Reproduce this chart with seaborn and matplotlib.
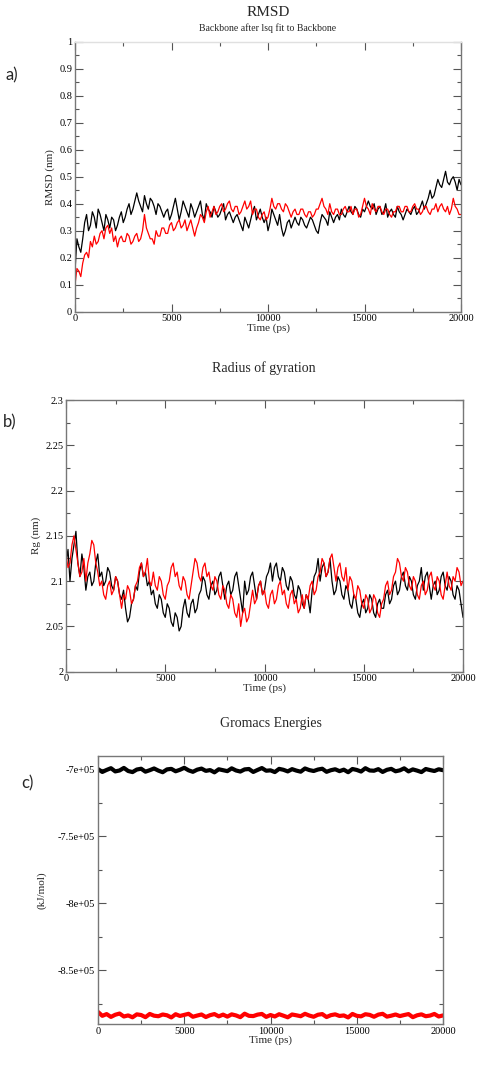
import matplotlib
matplotlib.use('Agg')
import matplotlib.pyplot as plt
import numpy as np
import seaborn as sns
from matplotlib.ticker import MultipleLocator, FuncFormatter

# time axis (ps)
time = np.arange(0, 20001, 100)
time_e = np.arange(0, 20001, 250)

rmsd_black = [
    0.15, 0.27, 0.24, 0.22, 0.27, 0.33, 0.36, 0.30, 0.32, 0.37,
    0.35, 0.31, 0.38, 0.36, 0.33, 0.30, 0.36, 0.34, 0.31, 0.35,
    0.34, 0.30, 0.32, 0.35, 0.37, 0.33, 0.35, 0.38, 0.40, 0.36,
    0.38, 0.41, 0.44, 0.41, 0.39, 0.37, 0.43, 0.40, 0.38, 0.42,
    0.41, 0.39, 0.36, 0.40, 0.39, 0.37, 0.35, 0.37, 0.38, 0.34,
    0.36, 0.39, 0.42, 0.38, 0.34, 0.37, 0.41, 0.39, 0.37, 0.35,
    0.40, 0.38, 0.35, 0.37, 0.39, 0.41, 0.36, 0.34, 0.40, 0.38,
    0.37, 0.35, 0.39, 0.37, 0.35, 0.36, 0.38, 0.40, 0.34, 0.36,
    0.37, 0.35, 0.33, 0.35, 0.36, 0.34, 0.32, 0.30, 0.35, 0.33,
    0.31, 0.34, 0.37, 0.39, 0.34, 0.36, 0.38, 0.35, 0.33, 0.35,
    0.30, 0.33, 0.38, 0.36, 0.34, 0.32, 0.36, 0.31, 0.28, 0.30,
    0.33, 0.34, 0.31, 0.33, 0.35, 0.33, 0.32, 0.35, 0.34, 0.32,
    0.31, 0.33, 0.35, 0.34, 0.32, 0.30, 0.29, 0.33, 0.36, 0.35,
    0.34, 0.32, 0.37, 0.35, 0.33, 0.35, 0.36, 0.34, 0.38, 0.36,
    0.35, 0.37, 0.39, 0.37, 0.36, 0.39, 0.38, 0.36, 0.35, 0.38,
    0.37, 0.39, 0.41, 0.39, 0.38, 0.40, 0.36, 0.38, 0.39, 0.36,
    0.37, 0.40, 0.35, 0.37, 0.38, 0.36, 0.35, 0.39, 0.37, 0.36,
    0.34, 0.36, 0.38, 0.37, 0.36, 0.38, 0.39, 0.36, 0.37, 0.39,
    0.41, 0.38, 0.40, 0.42, 0.45, 0.42, 0.43, 0.46, 0.49, 0.47,
    0.46, 0.49, 0.52, 0.48, 0.47, 0.49, 0.50, 0.48, 0.45, 0.49,
    0.47]
rmsd_red = [
    0.10, 0.16, 0.15, 0.13, 0.18, 0.21, 0.22, 0.20, 0.26, 0.24,
    0.28, 0.25, 0.26, 0.29, 0.30, 0.27, 0.31, 0.32, 0.29, 0.31,
    0.26, 0.28, 0.24, 0.27, 0.28, 0.26, 0.26, 0.29, 0.28, 0.25,
    0.26, 0.28, 0.29, 0.26, 0.27, 0.30, 0.36, 0.31, 0.29, 0.27,
    0.27, 0.25, 0.30, 0.28, 0.28, 0.31, 0.31, 0.29, 0.29, 0.32,
    0.33, 0.30, 0.31, 0.33, 0.34, 0.31, 0.32, 0.34, 0.30, 0.32,
    0.34, 0.31, 0.28, 0.31, 0.33, 0.36, 0.35, 0.33, 0.37, 0.39,
    0.35, 0.37, 0.39, 0.36, 0.37, 0.39, 0.40, 0.37, 0.38, 0.40,
    0.41, 0.38, 0.37, 0.39, 0.39, 0.36, 0.37, 0.39, 0.41, 0.38,
    0.39, 0.41, 0.36, 0.38, 0.38, 0.35, 0.34, 0.36, 0.37, 0.34,
    0.35, 0.38, 0.42, 0.39, 0.38, 0.40, 0.40, 0.38, 0.37, 0.40,
    0.39, 0.37, 0.35, 0.37, 0.38, 0.36, 0.36, 0.38, 0.38, 0.36,
    0.35, 0.37, 0.37, 0.35, 0.36, 0.38, 0.38, 0.40, 0.42, 0.39,
    0.38, 0.36, 0.40, 0.37, 0.36, 0.38, 0.38, 0.36, 0.36, 0.38,
    0.39, 0.37, 0.37, 0.39, 0.36, 0.38, 0.38, 0.35, 0.36, 0.39,
    0.42, 0.39, 0.38, 0.36, 0.40, 0.38, 0.37, 0.39, 0.39, 0.37,
    0.36, 0.38, 0.38, 0.36, 0.35, 0.37, 0.37, 0.39, 0.39, 0.37,
    0.37, 0.39, 0.39, 0.37, 0.37, 0.39, 0.40, 0.38, 0.38, 0.36,
    0.37, 0.39, 0.39, 0.37, 0.36, 0.38, 0.38, 0.40, 0.37, 0.39,
    0.40, 0.38, 0.37, 0.39, 0.36, 0.38, 0.42, 0.39, 0.38, 0.36,
    0.36]

rg_black = [
    2.12, 2.135, 2.10, 2.125, 2.14, 2.155, 2.12, 2.105, 2.13, 2.115,
    2.09, 2.105, 2.11, 2.095, 2.10, 2.12, 2.13, 2.105, 2.11, 2.095,
    2.10, 2.115, 2.11, 2.095, 2.09, 2.105, 2.10, 2.085, 2.08, 2.09,
    2.07, 2.055, 2.06, 2.075, 2.08, 2.095, 2.09, 2.11, 2.12, 2.105,
    2.11, 2.095, 2.10, 2.085, 2.09, 2.075, 2.07, 2.085, 2.08, 2.065,
    2.06, 2.075, 2.07, 2.055, 2.05, 2.065, 2.06, 2.045, 2.05, 2.07,
    2.08, 2.065, 2.06, 2.075, 2.08, 2.065, 2.07, 2.085, 2.09, 2.105,
    2.10, 2.085, 2.08, 2.095, 2.10, 2.085, 2.09, 2.105, 2.11, 2.095,
    2.08, 2.095, 2.10, 2.085, 2.09, 2.105, 2.11, 2.095, 2.08, 2.065,
    2.10, 2.085, 2.09, 2.105, 2.11, 2.095, 2.08, 2.095, 2.10, 2.085,
    2.09, 2.105, 2.11, 2.12, 2.10, 2.115, 2.12, 2.105, 2.10, 2.115,
    2.11, 2.095, 2.09, 2.105, 2.10, 2.085, 2.08, 2.095, 2.09, 2.075,
    2.07, 2.085, 2.08, 2.065, 2.09, 2.105, 2.11, 2.125, 2.10, 2.115,
    2.12, 2.105, 2.11, 2.125, 2.10, 2.085, 2.09, 2.105, 2.10, 2.085,
    2.08, 2.095, 2.09, 2.075, 2.07, 2.085, 2.08, 2.065, 2.06, 2.075,
    2.08, 2.065, 2.07, 2.085, 2.08, 2.065, 2.06, 2.075, 2.08, 2.07,
    2.07, 2.085, 2.09, 2.075, 2.08, 2.095, 2.10, 2.085, 2.09, 2.105,
    2.11, 2.095, 2.09, 2.105, 2.10, 2.085, 2.08, 2.095, 2.10, 2.115,
    2.09, 2.105, 2.11, 2.095, 2.08, 2.095, 2.10, 2.085, 2.09, 2.105,
    2.11, 2.095, 2.09, 2.105, 2.10, 2.085, 2.08, 2.095, 2.09, 2.075,
    2.06]
rg_red = [
    2.13, 2.115, 2.12, 2.14, 2.15, 2.135, 2.12, 2.105, 2.11, 2.125,
    2.10, 2.12, 2.13, 2.145, 2.14, 2.12, 2.11, 2.095, 2.10, 2.085,
    2.08, 2.095, 2.10, 2.085, 2.09, 2.105, 2.10, 2.085, 2.07, 2.085,
    2.08, 2.095, 2.09, 2.075, 2.08, 2.095, 2.10, 2.115, 2.12, 2.105,
    2.11, 2.125, 2.10, 2.095, 2.11, 2.095, 2.09, 2.105, 2.10, 2.085,
    2.08, 2.095, 2.10, 2.115, 2.12, 2.105, 2.11, 2.095, 2.09, 2.105,
    2.10, 2.085, 2.08, 2.095, 2.11, 2.125, 2.12, 2.105, 2.10, 2.115,
    2.12, 2.105, 2.11, 2.095, 2.09, 2.105, 2.10, 2.085, 2.08, 2.095,
    2.09, 2.075, 2.07, 2.085, 2.08, 2.065, 2.06, 2.075, 2.05, 2.065,
    2.07, 2.055, 2.06, 2.075, 2.09, 2.075, 2.08, 2.095, 2.10, 2.085,
    2.09, 2.075, 2.07, 2.085, 2.09, 2.075, 2.08, 2.095, 2.10, 2.085,
    2.09, 2.075, 2.07, 2.085, 2.09, 2.075, 2.08, 2.065, 2.07, 2.085,
    2.07, 2.085, 2.08, 2.095, 2.10, 2.085, 2.09, 2.105, 2.11, 2.125,
    2.12, 2.105, 2.11, 2.125, 2.13, 2.115, 2.10, 2.115, 2.12, 2.105,
    2.10, 2.115, 2.09, 2.105, 2.10, 2.085, 2.08, 2.095, 2.09, 2.075,
    2.07, 2.085, 2.08, 2.065, 2.07, 2.085, 2.08, 2.065, 2.06, 2.075,
    2.08, 2.095, 2.10, 2.085, 2.09, 2.105, 2.11, 2.125, 2.12, 2.105,
    2.10, 2.115, 2.11, 2.095, 2.09, 2.105, 2.10, 2.085, 2.08, 2.095,
    2.10, 2.085, 2.09, 2.105, 2.11, 2.095, 2.09, 2.105, 2.10, 2.085,
    2.08, 2.095, 2.11, 2.095, 2.09, 2.105, 2.10, 2.115, 2.11, 2.095,
    2.10]

# energies in kJ/mol (x1000)
energy_black = [
    -699.8, -701.9, -700.4, -699.1, -701.5, -700.8, -698.9, -701.2, -702.0, -700.1,
    -699.5, -701.7, -700.6, -699.3, -700.9, -702.1, -700.0, -699.6, -701.4, -700.3,
    -698.8, -700.7, -701.8, -700.2, -699.4, -701.1, -700.5, -702.2, -699.9, -700.6,
    -701.3, -699.2, -700.8, -701.6, -700.0, -699.7, -701.9, -700.4, -699.0, -701.0,
    -700.7, -702.0, -699.6, -700.3, -701.5, -699.8, -700.9, -701.7, -699.3, -700.5,
    -701.2, -700.1, -699.5, -701.8, -700.6, -699.9, -701.3, -700.2, -702.1, -699.7,
    -700.4, -701.6, -699.1, -700.8, -701.0, -699.8, -701.9, -700.3, -699.6, -701.4,
    -700.7, -699.2, -701.5, -700.0, -700.9, -702.0, -699.7, -700.5, -701.2, -699.9,
    -700.6]
energy_red = [
    -881.0, -883.9, -882.6, -884.7, -883.1, -882.2, -884.4, -883.6, -885.0, -882.8,
    -883.3, -884.9, -882.5, -883.8, -884.2, -882.9, -883.5, -885.1, -882.7, -884.0,
    -883.2, -882.4, -884.6, -883.7, -882.9, -884.8, -883.4, -882.6, -884.3, -883.0,
    -884.5, -882.8, -883.6, -884.9, -882.3, -883.9, -884.1, -883.0, -882.5, -884.7,
    -883.3, -884.4, -882.7, -883.8, -885.0, -882.9, -883.5, -884.2, -882.4, -883.7,
    -884.6, -883.1, -882.6, -884.8, -883.4, -882.8, -884.0, -883.6, -885.1, -882.5,
    -883.9, -884.3, -882.7, -883.2, -884.6, -883.0, -882.4, -884.5, -883.8, -882.9,
    -884.1, -883.3, -882.6, -884.9, -883.5, -882.8, -884.2, -883.7, -882.5, -884.4,
    -883.6]

sns.set_theme(style="ticks")
plt.rcParams['font.family'] = ['Liberation Serif', 'DejaVu Serif']

W, H = 486, 1066
fig = plt.figure(figsize=(W / 100, H / 100), dpi=100)


def px_axes(l, t, r, b):
    return fig.add_axes([l / W, 1 - b / H, (r - l) / W, (b - t) / H])


def grace_style(ax, top_light=False):
    for s in ax.spines.values():
        s.set_color('#777777')
        s.set_linewidth(1.0)
    if top_light:
        ax.spines['top'].set_color('#e0e0e0')
    ax.tick_params(which='both', direction='in', top=True, right=True,
                   colors='#555555', labelcolor='black', labelsize=7.5, pad=2)
    ax.tick_params(which='major', length=6, width=0.8)
    ax.tick_params(which='minor', length=3, width=0.8)
    ax.xaxis.set_major_locator(MultipleLocator(5000))
    ax.xaxis.set_minor_locator(MultipleLocator(2500))
    ax.set_xlim(0, 20000)
    ax.set_xlabel('Time (ps)', fontsize=8, labelpad=0)


gfmt = FuncFormatter(lambda v, p: f"{v:g}")

# a) RMSD
ax1 = px_axes(75, 41.7, 461, 311.7)
sns.lineplot(x=time, y=rmsd_black, color='black', linewidth=0.9, ax=ax1)
sns.lineplot(x=time, y=rmsd_red, color='red', linewidth=0.9, ax=ax1)
grace_style(ax1, top_light=True)
ax1.set_ylim(0, 1)
ax1.yaxis.set_major_locator(MultipleLocator(0.1))
ax1.yaxis.set_minor_locator(MultipleLocator(0.05))
ax1.yaxis.set_major_formatter(gfmt)
ax1.xaxis.set_major_formatter(gfmt)
ax1.set_ylabel('RMSD (nm)', fontsize=8, labelpad=3)
fig.text(268 / W, 1 - 13 / H, 'RMSD', ha='center', va='center', fontsize=11)
fig.text(268 / W, 1 - 28 / H, 'Backbone after lsq fit to Backbone', ha='center', va='center', fontsize=7)
fig.text(12 / W, 1 - 75 / H, 'a)', ha='center', va='center', fontsize=12, family=['Lato', 'DejaVu Sans'])

# b) Radius of gyration
ax2 = px_axes(66, 400, 463, 671.7)
sns.lineplot(x=time, y=rg_black, color='black', linewidth=0.9, ax=ax2)
sns.lineplot(x=time, y=rg_red, color='red', linewidth=0.9, ax=ax2)
grace_style(ax2)
ax2.set_ylim(2, 2.3)
ax2.yaxis.set_major_locator(MultipleLocator(0.05))
ax2.yaxis.set_minor_locator(MultipleLocator(0.025))
ax2.yaxis.set_major_formatter(gfmt)
ax2.xaxis.set_major_formatter(gfmt)
ax2.set_ylabel('Rg (nm)', fontsize=8, labelpad=3)
fig.text(264 / W, 1 - 368 / H, 'Radius of gyration', ha='center', va='center', fontsize=10)
fig.text(10 / W, 1 - 422 / H, 'b)', ha='center', va='center', fontsize=12, family=['Lato', 'DejaVu Sans'])

# c) Gromacs Energies
ax3 = px_axes(98, 756, 443, 1024)
sns.lineplot(x=time_e, y=np.array(energy_black) * 1000, color='black', linewidth=3.0, ax=ax3)
sns.lineplot(x=time_e, y=np.array(energy_red) * 1000, color='red', linewidth=3.0, ax=ax3)
grace_style(ax3)
ax3.set_ylim(-8.9e5, -6.9e5)
ax3.yaxis.set_major_locator(MultipleLocator(0.5e5))
ax3.yaxis.set_minor_locator(MultipleLocator(0.25e5))
ax3.yaxis.set_major_formatter(FuncFormatter(lambda v, p: f"{v:.2g}"))
ax3.xaxis.set_major_formatter(gfmt)
ax3.set_ylabel('(kJ/mol)', fontsize=8, labelpad=8)
fig.text(271 / W, 1 - 724 / H, 'Gromacs Energies', ha='center', va='center', fontsize=10)
fig.text(27 / W, 1 - 783 / H, 'c)', ha='center', va='center', fontsize=12, family=['Lato', 'DejaVu Sans'])

fig.savefig('out.png', dpi=100)
